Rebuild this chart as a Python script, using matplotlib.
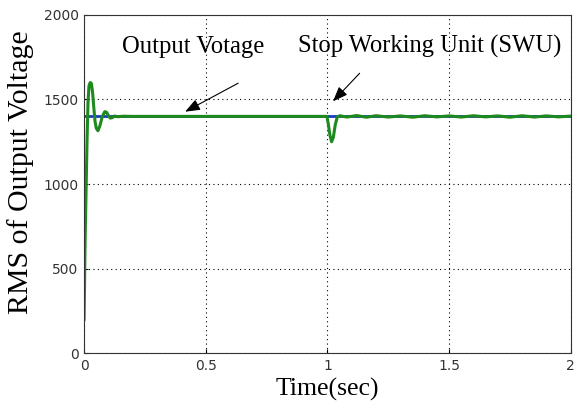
import numpy as np
import matplotlib.pyplot as plt

# reference RMS voltage (blue) and measured RMS output voltage (green)
t_ref = [0.0, 2.0]
v_ref = [1400, 1400]

t_out = [0.0, 0.004, 0.008, 0.012, 0.016, 0.02, 0.025, 0.03, 0.035, 0.04, 0.045,
         0.05, 0.057, 0.065, 0.075, 0.085, 0.092, 0.1, 0.107, 0.115, 0.125, 0.14,
         0.16, 0.2, 0.4, 0.6, 0.8, 0.998, 1.004, 1.01, 1.017, 1.024, 1.032, 1.04,
         1.05, 1.08, 1.12, 1.16, 1.2, 1.25, 1.3, 1.35, 1.4, 1.45, 1.5, 1.55, 1.6,
         1.65, 1.7, 1.75, 1.8, 1.85, 1.9, 1.95, 2.0]
v_out = [200, 650, 950, 1250, 1480, 1580, 1600, 1595, 1540, 1450, 1370,
         1330, 1315, 1345, 1400, 1428, 1425, 1405, 1390, 1392, 1402, 1398,
         1401, 1400, 1400, 1400, 1400, 1400, 1350, 1290, 1250, 1275, 1350, 1395,
         1404, 1396, 1405, 1395, 1404, 1396, 1403, 1395, 1404, 1397, 1403, 1396, 1404,
         1397, 1403, 1395, 1404, 1396, 1403, 1397, 1402]

plt.rcParams['font.family'] = 'DejaVu Sans'
fig = plt.figure(figsize=(5.76, 4.04), dpi=100)
ax = fig.add_axes([0.146, 0.126, 0.845, 0.837])

ax.plot(t_ref, v_ref, color='#1a3fc0', lw=2)
ax.plot(t_out, v_out, color='#1e8a1e', lw=2.2)

ax.set_xlim(0, 2)
ax.set_ylim(0, 2000)
ax.set_xticks([0, 0.5, 1, 1.5, 2])
ax.set_xticklabels(['0', '0.5', '1', '1.5', '2'])
ax.set_yticks([0, 500, 1000, 1500, 2000])
ax.tick_params(direction='in', length=3, labelsize=10, labelcolor='#333333', pad=4)
ax.grid(True, color='black', ls=(0, (1, 3)), lw=0.8)
for s in ax.spines.values():
    s.set_color('#333333')

serif = 'Liberation Serif'
ax.set_xlabel('Time(sec)', family=serif, fontsize=18.5)
ax.set_ylabel('RMS of Output Voltage', family=serif, fontsize=21.5)
ax.xaxis.set_label_coords(0.5, -0.072)
ax.yaxis.set_label_coords(-0.103, 0.535)

ax.text(0.448, 1811, 'Output Votage', family=serif, fontsize=17.7, ha='center', va='center')
ax.text(1.42, 1811, 'Stop Working Unit (SWU)', family=serif, fontsize=17.7, ha='center', va='center')

arrow = dict(arrowstyle='-|>,head_length=0.9,head_width=0.35', color='black', lw=0.8)
ax.annotate('', xy=(0.405, 1420), xytext=(0.643, 1604), arrowprops=arrow)
ax.annotate('', xy=(1.015, 1477), xytext=(1.14, 1667), arrowprops=arrow)

fig.savefig('out.png', dpi=100)
